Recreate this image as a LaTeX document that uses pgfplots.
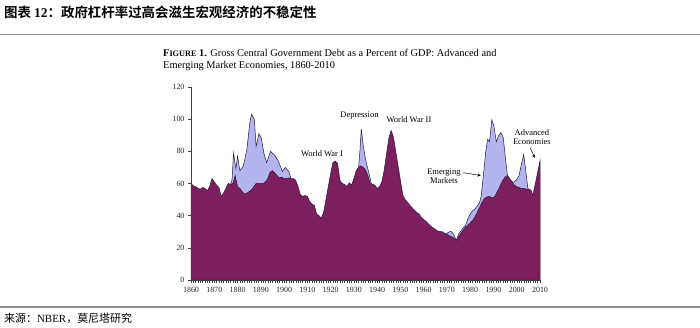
\documentclass[border=0pt]{standalone}
\usepackage{pgfplots}
\pgfplotsset{compat=1.18}
\usepackage{fontspec}
\setmainfont{Liberation Serif}
\newfontfamily\cjk{Noto Sans CJK SC}[BoldFont={Noto Sans CJK SC Bold}]
\definecolor{darkc}{HTML}{7B1F5E}
\definecolor{lightc}{HTML}{B4B4F0}
\definecolor{outc}{HTML}{2A1838}
\begin{document}
\begin{tikzpicture}[x=1bp,y=1bp]
\path[use as bounding box] (0bp,0bp) rectangle (700bp,328bp);
\fill[white] (0bp,0bp) rectangle (700bp,328bp);
\node[anchor=west,inner sep=0pt,font=\fontsize{13.5}{15}\selectfont] at (4bp,315.5bp) {\cjk\bfseries 图表 {\rmfamily\bfseries 12}：政府杠杆率过高会滋生宏观经济的不稳定性};
\draw[black!45,line width=1.5bp] (0bp,293.3bp) -- (700bp,293.3bp);
\draw[black!45,line width=2.2bp] (0bp,21.3bp) -- (700bp,21.3bp);
\node[anchor=west,inner sep=0pt,font=\fontsize{11}{12}\selectfont] at (4bp,9.5bp) {\cjk 来源：{\rmfamily NBER}，莫尼塔研究};
\node[anchor=base west,inner sep=0pt,font=\fontsize{10.4}{11}\selectfont] at (163bp,271bp) {{\bfseries F{\fontsize{8.3}{9}\selectfont IGURE} 1.} Gross Central Government Debt as a Percent of GDP: Advanced and};
\node[anchor=base west,inner sep=0pt,font=\fontsize{10.4}{11}\selectfont] at (163bp,259.5bp) {Emerging Market Economies, 1860-2010};
\begin{axis}[
  at={(191bp,48bp)}, anchor=south west,
  scale only axis, width=349bp, height=193bp,
  xmin=1860, xmax=2010, ymin=0, ymax=120,
  axis lines*=left, axis line style={-, black!75, line width=0.5bp},
  axis on top, clip=false,
  xtick={1860,1870,...,2010}, minor x tick num=9,
  ytick={0,20,...,120},
  tick align=outside, major tick length=3bp, minor tick length=2.5bp,
  tick style={black!75, line width=0.4bp},
  /pgf/number format/assume math mode=true,
  /pgf/number format/1000 sep={},
  ticklabel style={font=\fontsize{8}{9}\selectfont, text=black!85},
  xticklabel style={yshift=-1bp},
]
\addplot[draw=outc, fill=lightc, line width=0.5bp] coordinates {
(1876,59.5) (1877,59.5) (1877.6,62) (1878.3,79) (1879.3,69) (1880,77) (1881,68) (1882.5,71)
(1884,81) (1885.3,98) (1886,103) (1887.2,100) (1888,83) (1889.2,91) (1890.2,88.5) (1891.3,79)
(1892.5,73) (1894.2,80) (1896,77.5) (1897.5,74) (1899.3,67.5) (1900.5,70) (1902,67.5) (1903,63)
(1903.5,20) (1931.5,20) (1932,69.5) (1932.6,80) (1933.2,94) (1934,84) (1935,75) (1936.3,67.5)
(1937.5,60) (1938,20) (1969.5,20) (1970,29) (1971,30) (1972,30) (1973,28) (1974,24.5)
(1975,28.5) (1976,30.5) (1977,32.5) (1978,34) (1979,38) (1980,41) (1981,43) (1982,44)
(1983,46) (1984,48) (1984.7,52) (1985.3,60) (1986,70) (1986.7,80) (1987.5,87.5) (1988.3,86)
(1989.3,99.6) (1990.2,95.6) (1991.2,86) (1992.2,89.6) (1993.2,91.7) (1994.2,88.5) (1995.2,75) (1996,65)
(1997,62.5) (1998,61) (1999,61) (2000,62.5) (2001,65) (2002,72) (2003,78) (2003.8,69)
(2004.7,58) (2005,56) (2005.5,20) (2009.5,20)
} \closedcycle;
\addplot[draw=outc, fill=darkc, line width=0.5bp] coordinates {
(1860,60) (1861,58.5) (1862,58) (1863,57) (1864,56.5) (1865,57.5) (1866,57) (1867,55.5)
(1868,58) (1869,63) (1870,61) (1871,59) (1872,57.5) (1873,52) (1874,54) (1875,57)
(1876,60) (1877,59.5) (1878,60) (1879,65) (1880,58) (1881,57) (1882,55) (1883,53.5)
(1884,54) (1885,55) (1886,56) (1887,58) (1888,60) (1889,60) (1890,60) (1891,60)
(1892,61) (1893,63) (1894,67) (1895,68) (1896,66.5) (1897,65) (1898,63.5) (1899,64)
(1900,63) (1901,63) (1902,63.5) (1903,63) (1904,63) (1905,62) (1906,58) (1907,53)
(1908,52) (1909,52.5) (1910,52) (1911,49) (1912,47) (1913,46.5) (1914,41) (1915,40)
(1916,38.5) (1917,42) (1918,50) (1919,58) (1920,66) (1921,73) (1922,74) (1923,72.5)
(1924,62) (1925,60) (1926,59.5) (1927,58) (1928,60.5) (1929,59) (1930,63) (1931,68)
(1932,70) (1933,71) (1934,70) (1935,68.5) (1936,65) (1937,60) (1938,59.5) (1939,59)
(1940,57) (1941,58) (1942,61) (1943,68) (1944,78) (1945,88) (1946,93) (1947,89)
(1948,80) (1949,71) (1950,62) (1951,53) (1952,50) (1953,48.5) (1954,46.5) (1955,45)
(1956,43.5) (1957,42) (1958,41) (1959,39) (1960,37.5) (1961,36.5) (1962,35) (1963,33.5)
(1964,32.5) (1965,31.5) (1966,30.5) (1967,30) (1968,30) (1969,29) (1970,28.5) (1971,27.5)
(1972,27) (1973,26) (1974,24.5) (1975,27) (1976,29) (1977,31) (1978,33) (1979,34)
(1980,35.5) (1981,37) (1982,39) (1983,42) (1984,45) (1985,48) (1986,50.5) (1987,51.5)
(1988,52) (1989,51.5) (1990,51) (1991,53) (1992,56) (1993,59) (1994,62) (1995,64)
(1996,65) (1997,63) (1998,61) (1999,59) (2000,58) (2001,57.5) (2002,57) (2003,57)
(2004,56.5) (2005,56.5) (2006,56) (2007,53) (2008,60) (2009,67) (2010,74)
} \closedcycle;
\begin{scope}[font=\fontsize{8.5}{9.5}\selectfont, inner sep=0pt]
\node at (axis cs:1916.3,78.7) {World War I};
\node at (axis cs:1932.4,102.5) {Depression};
\node at (axis cs:1953.7,100) {World War II};
\node[align=center] at (axis cs:1968.7,64.4) {Emerging\\Markets};
\node[align=center] at (axis cs:2006.5,88.7) {Advanced\\Economies};
\end{scope}
\draw[-stealth, black, line width=0.5bp] (axis cs:1977,66.7) -- (axis cs:1984.5,65);
\draw[-stealth, black, line width=0.5bp] (axis cs:2005.7,82.3) -- (axis cs:2007.8,76);
\end{axis}
\end{tikzpicture}
\end{document}
